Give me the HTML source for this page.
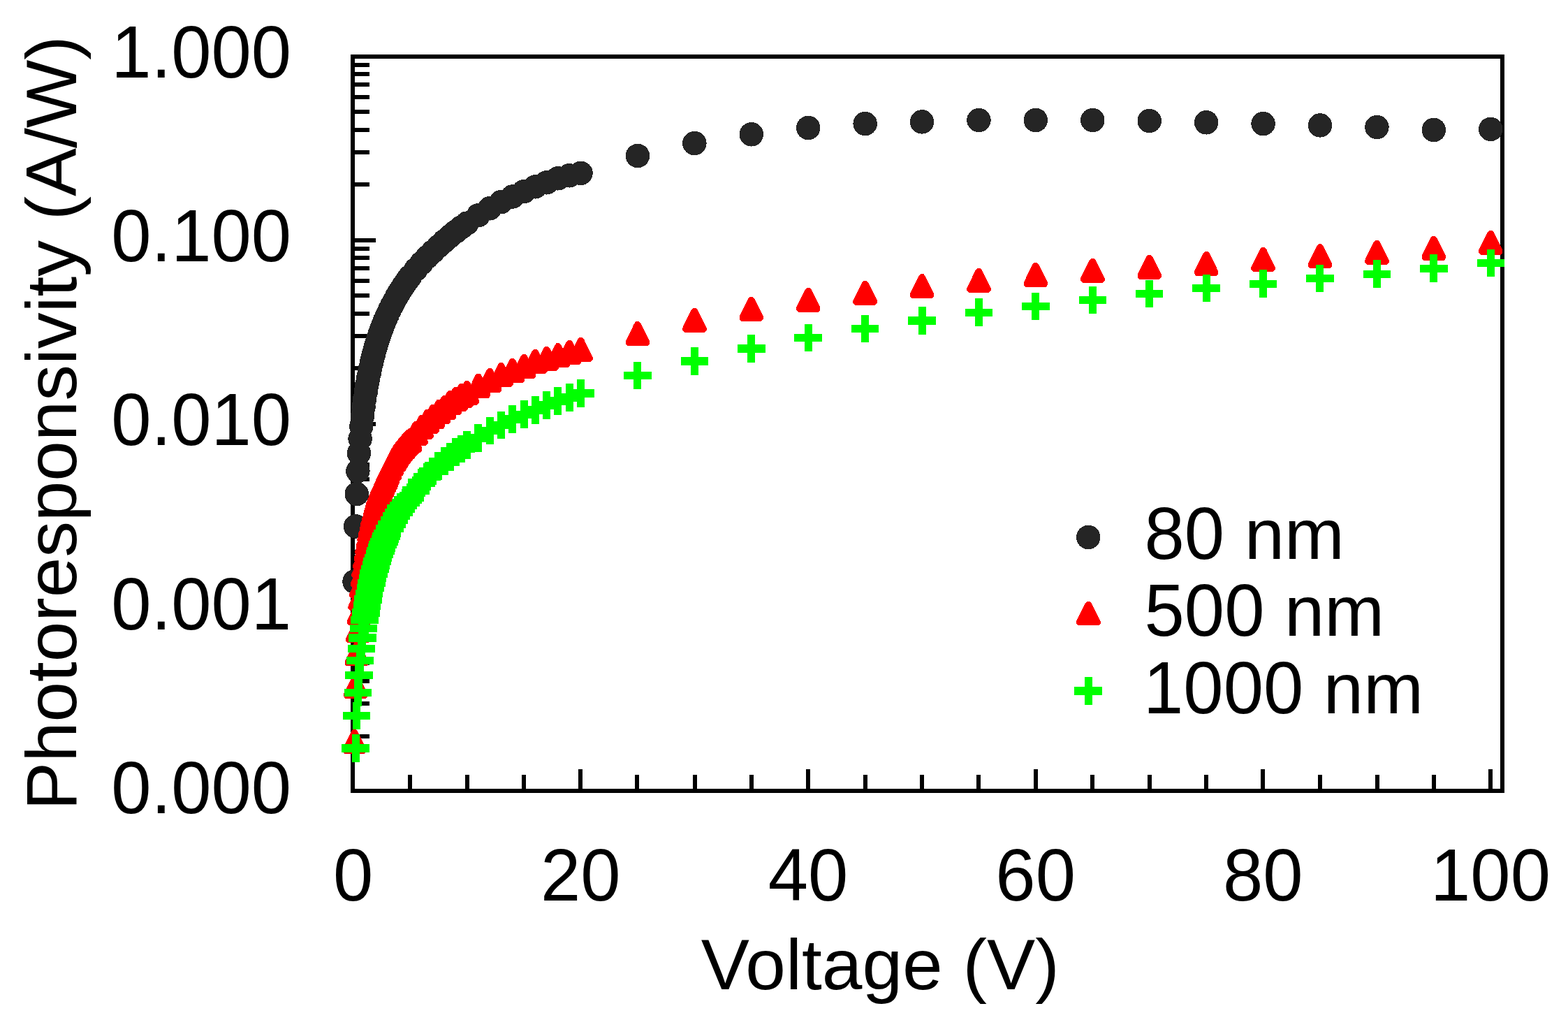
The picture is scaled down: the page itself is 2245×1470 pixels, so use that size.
<!DOCTYPE html>
<html lang="en"><head><meta charset="utf-8"><title>Photoresponsivity vs Voltage</title>
<style>html,body{margin:0;padding:0;background:#fff}body{width:2245px;height:1470px;overflow:hidden}svg{display:block}text{font-family:"Liberation Sans",Arial,Helvetica,sans-serif;fill:#000;font-kerning:none;font-variant-ligatures:none;letter-spacing:0}</style>
</head><body>
<svg width="2245" height="1470" viewBox="0 0 2245 1470">
<rect x="0" y="0" width="2245" height="1470" fill="#fff"/>
<g fill="#000" shape-rendering="crispEdges">
<rect x="502" y="78" width="1652" height="6"/>
<rect x="502" y="1129" width="1652" height="6"/>
<rect x="502" y="78" width="6" height="1057"/>
<rect x="2148" y="78" width="6" height="1057"/>
<rect x="508" y="90" width="21" height="6"/>
<rect x="508" y="103" width="21" height="6"/>
<rect x="508" y="118" width="21" height="6"/>
<rect x="508" y="136" width="21" height="6"/>
<rect x="508" y="157" width="21" height="6"/>
<rect x="508" y="183" width="21" height="6"/>
<rect x="508" y="215" width="21" height="6"/>
<rect x="508" y="261" width="21" height="6"/>
<rect x="508" y="341" width="30" height="6"/>
<rect x="508" y="353" width="21" height="6"/>
<rect x="508" y="366" width="21" height="6"/>
<rect x="508" y="381" width="21" height="6"/>
<rect x="508" y="399" width="21" height="6"/>
<rect x="508" y="420" width="21" height="6"/>
<rect x="508" y="446" width="21" height="6"/>
<rect x="508" y="478" width="21" height="6"/>
<rect x="508" y="524" width="21" height="6"/>
<rect x="508" y="604" width="30" height="6"/>
<rect x="508" y="616" width="21" height="6"/>
<rect x="508" y="629" width="21" height="6"/>
<rect x="508" y="644" width="21" height="6"/>
<rect x="508" y="662" width="21" height="6"/>
<rect x="508" y="683" width="21" height="6"/>
<rect x="508" y="709" width="21" height="6"/>
<rect x="508" y="741" width="21" height="6"/>
<rect x="508" y="787" width="21" height="6"/>
<rect x="508" y="867" width="30" height="6"/>
<rect x="508" y="879" width="21" height="6"/>
<rect x="508" y="892" width="21" height="6"/>
<rect x="508" y="907" width="21" height="6"/>
<rect x="508" y="925" width="21" height="6"/>
<rect x="508" y="946" width="21" height="6"/>
<rect x="508" y="972" width="21" height="6"/>
<rect x="508" y="1004" width="21" height="6"/>
<rect x="508" y="1051" width="21" height="6"/>
<rect x="584" y="1109" width="6" height="20"/>
<rect x="666" y="1109" width="6" height="20"/>
<rect x="747" y="1109" width="6" height="20"/>
<rect x="828" y="1101" width="6" height="28"/>
<rect x="909" y="1109" width="6" height="20"/>
<rect x="992" y="1109" width="6" height="20"/>
<rect x="1073" y="1109" width="6" height="20"/>
<rect x="1154" y="1101" width="6" height="28"/>
<rect x="1236" y="1109" width="6" height="20"/>
<rect x="1317" y="1109" width="6" height="20"/>
<rect x="1398" y="1109" width="6" height="20"/>
<rect x="1480" y="1101" width="6" height="28"/>
<rect x="1561" y="1109" width="6" height="20"/>
<rect x="1643" y="1109" width="6" height="20"/>
<rect x="1724" y="1109" width="6" height="20"/>
<rect x="1805" y="1101" width="6" height="28"/>
<rect x="1887" y="1109" width="6" height="20"/>
<rect x="1969" y="1109" width="6" height="20"/>
<rect x="2050" y="1109" width="6" height="20"/>
<rect x="2131" y="1101" width="6" height="28"/>
</g>
<g shape-rendering="crispEdges">
<g fill="#252525">
<circle cx="507.48" cy="832.50" r="17.25"/>
<circle cx="509.11" cy="753.40" r="17.25"/>
<circle cx="510.74" cy="707.13" r="17.25"/>
<circle cx="512.36" cy="674.31" r="17.25"/>
<circle cx="513.99" cy="648.84" r="17.25"/>
<circle cx="515.62" cy="628.04" r="17.25"/>
<circle cx="517.25" cy="610.45" r="17.25"/>
<circle cx="518.88" cy="595.73" r="17.25"/>
<circle cx="520.51" cy="582.74" r="17.25"/>
<circle cx="522.13" cy="571.13" r="17.25"/>
<circle cx="523.76" cy="560.62" r="17.25"/>
<circle cx="525.39" cy="551.04" r="17.25"/>
<circle cx="527.02" cy="542.22" r="17.25"/>
<circle cx="528.65" cy="534.05" r="17.25"/>
<circle cx="530.28" cy="526.45" r="17.25"/>
<circle cx="531.90" cy="519.34" r="17.25"/>
<circle cx="533.53" cy="512.67" r="17.25"/>
<circle cx="535.16" cy="506.37" r="17.25"/>
<circle cx="536.79" cy="500.42" r="17.25"/>
<circle cx="538.42" cy="494.77" r="17.25"/>
<circle cx="540.05" cy="489.39" r="17.25"/>
<circle cx="541.67" cy="484.27" r="17.25"/>
<circle cx="543.30" cy="479.38" r="17.25"/>
<circle cx="544.93" cy="474.76" r="17.25"/>
<circle cx="546.56" cy="470.35" r="17.25"/>
<circle cx="548.19" cy="466.12" r="17.25"/>
<circle cx="549.82" cy="462.04" r="17.25"/>
<circle cx="551.45" cy="458.12" r="17.25"/>
<circle cx="553.07" cy="454.33" r="17.25"/>
<circle cx="554.70" cy="450.68" r="17.25"/>
<circle cx="557.96" cy="443.72" r="17.25"/>
<circle cx="561.22" cy="437.18" r="17.25"/>
<circle cx="564.47" cy="431.02" r="17.25"/>
<circle cx="567.73" cy="425.20" r="17.25"/>
<circle cx="570.99" cy="419.67" r="17.25"/>
<circle cx="574.24" cy="414.42" r="17.25"/>
<circle cx="577.50" cy="409.41" r="17.25"/>
<circle cx="580.76" cy="404.62" r="17.25"/>
<circle cx="584.01" cy="400.11" r="17.25"/>
<circle cx="587.27" cy="395.79" r="17.25"/>
<circle cx="595.41" cy="385.71" r="17.25"/>
<circle cx="603.55" cy="376.51" r="17.25"/>
<circle cx="611.70" cy="368.05" r="17.25"/>
<circle cx="619.84" cy="360.22" r="17.25"/>
<circle cx="627.98" cy="352.48" r="17.25"/>
<circle cx="636.12" cy="345.10" r="17.25"/>
<circle cx="644.26" cy="338.16" r="17.25"/>
<circle cx="652.41" cy="331.62" r="17.25"/>
<circle cx="660.55" cy="325.44" r="17.25"/>
<circle cx="668.69" cy="319.57" r="17.25"/>
<circle cx="684.97" cy="308.10" r="17.25"/>
<circle cx="701.26" cy="298.30" r="17.25"/>
<circle cx="717.54" cy="289.10" r="17.25"/>
<circle cx="733.83" cy="281.50" r="17.25"/>
<circle cx="750.11" cy="274.10" r="17.25"/>
<circle cx="766.39" cy="267.30" r="17.25"/>
<circle cx="782.68" cy="261.30" r="17.25"/>
<circle cx="798.96" cy="255.30" r="17.25"/>
<circle cx="815.25" cy="251.30" r="17.25"/>
<circle cx="831.53" cy="247.80" r="17.25"/>
<circle cx="912.95" cy="223.00" r="17.25"/>
<circle cx="994.37" cy="205.10" r="17.25"/>
<circle cx="1075.79" cy="192.30" r="17.25"/>
<circle cx="1157.21" cy="183.00" r="17.25"/>
<circle cx="1238.63" cy="177.10" r="17.25"/>
<circle cx="1320.05" cy="174.40" r="17.25"/>
<circle cx="1401.47" cy="172.00" r="17.25"/>
<circle cx="1482.89" cy="172.00" r="17.25"/>
<circle cx="1564.31" cy="172.00" r="17.25"/>
<circle cx="1645.73" cy="173.00" r="17.25"/>
<circle cx="1727.15" cy="175.30" r="17.25"/>
<circle cx="1808.57" cy="177.10" r="17.25"/>
<circle cx="1889.99" cy="179.40" r="17.25"/>
<circle cx="1971.41" cy="182.00" r="17.25"/>
<circle cx="2052.83" cy="186.00" r="17.25"/>
<circle cx="2134.25" cy="184.90" r="17.25"/>
</g>
<g fill="#ff0000">
<polygon points="505.48,1044.19 509.48,1044.19 511.98,1046.79 524.08,1071.19 524.68,1072.69 524.68,1075.99 523.48,1077.39 521.98,1078.89 492.98,1078.89 491.48,1077.39 490.28,1075.99 490.28,1072.69 490.88,1071.19 502.98,1046.79"/>
<polygon points="507.11,964.95 511.11,964.95 513.61,967.55 525.71,991.95 526.31,993.45 526.31,996.75 525.11,998.15 523.61,999.65 494.61,999.65 493.11,998.15 491.91,996.75 491.91,993.45 492.51,991.95 504.61,967.55"/>
<polygon points="508.74,918.60 512.74,918.60 515.24,921.20 527.34,945.60 527.94,947.10 527.94,950.40 526.74,951.80 525.24,953.30 496.24,953.30 494.74,951.80 493.54,950.40 493.54,947.10 494.14,945.60 506.24,921.20"/>
<polygon points="510.36,885.72 514.36,885.72 516.86,888.32 528.96,912.72 529.56,914.22 529.56,917.52 528.36,918.92 526.86,920.42 497.86,920.42 496.36,918.92 495.16,917.52 495.16,914.22 495.76,912.72 507.86,888.32"/>
<polygon points="511.99,860.21 515.99,860.21 518.49,862.81 530.59,887.21 531.19,888.71 531.19,892.01 529.99,893.41 528.49,894.91 499.49,894.91 497.99,893.41 496.79,892.01 496.79,888.71 497.39,887.21 509.49,862.81"/>
<polygon points="513.62,839.37 517.62,839.37 520.12,841.97 532.22,866.37 532.82,867.87 532.82,871.17 531.62,872.57 530.12,874.07 501.12,874.07 499.62,872.57 498.42,871.17 498.42,867.87 499.02,866.37 511.12,841.97"/>
<polygon points="515.25,821.75 519.25,821.75 521.75,824.35 533.85,848.75 534.45,850.25 534.45,853.55 533.25,854.95 531.75,856.45 502.75,856.45 501.25,854.95 500.05,853.55 500.05,850.25 500.65,848.75 512.75,824.35"/>
<polygon points="516.88,806.49 520.88,806.49 523.38,809.09 535.48,833.49 536.08,834.99 536.08,838.29 534.88,839.69 533.38,841.19 504.38,841.19 502.88,839.69 501.68,838.29 501.68,834.99 502.28,833.49 514.38,809.09"/>
<polygon points="518.51,793.02 522.51,793.02 525.01,795.62 537.11,820.02 537.71,821.52 537.71,824.82 536.51,826.22 535.01,827.72 506.01,827.72 504.51,826.22 503.31,824.82 503.31,821.52 503.91,820.02 516.01,795.62"/>
<polygon points="520.13,780.98 524.13,780.98 526.63,783.58 538.73,807.98 539.33,809.48 539.33,812.78 538.13,814.18 536.63,815.68 507.63,815.68 506.13,814.18 504.93,812.78 504.93,809.48 505.53,807.98 517.63,783.58"/>
<polygon points="521.76,770.08 525.76,770.08 528.26,772.68 540.36,797.08 540.96,798.58 540.96,801.88 539.76,803.28 538.26,804.78 509.26,804.78 507.76,803.28 506.56,801.88 506.56,798.58 507.16,797.08 519.26,772.68"/>
<polygon points="523.39,760.14 527.39,760.14 529.89,762.74 541.99,787.14 542.59,788.64 542.59,791.94 541.39,793.34 539.89,794.84 510.89,794.84 509.39,793.34 508.19,791.94 508.19,788.64 508.79,787.14 520.89,762.74"/>
<polygon points="525.02,750.99 529.02,750.99 531.52,753.59 543.62,777.99 544.22,779.49 544.22,782.79 543.02,784.19 541.52,785.69 512.52,785.69 511.02,784.19 509.82,782.79 509.82,779.49 510.42,777.99 522.52,753.59"/>
<polygon points="526.65,742.52 530.65,742.52 533.15,745.12 545.25,769.52 545.85,771.02 545.85,774.32 544.65,775.72 543.15,777.22 514.15,777.22 512.65,775.72 511.45,774.32 511.45,771.02 512.05,769.52 524.15,745.12"/>
<polygon points="528.28,734.63 532.28,734.63 534.78,737.23 546.88,761.63 547.48,763.13 547.48,766.43 546.28,767.83 544.78,769.33 515.78,769.33 514.28,767.83 513.08,766.43 513.08,763.13 513.68,761.63 525.78,737.23"/>
<polygon points="529.90,727.25 533.90,727.25 536.40,729.85 548.50,754.25 549.10,755.75 549.10,759.05 547.90,760.45 546.40,761.95 517.40,761.95 515.90,760.45 514.70,759.05 514.70,755.75 515.30,754.25 527.40,729.85"/>
<polygon points="531.53,720.32 535.53,720.32 538.03,722.92 550.13,747.32 550.73,748.82 550.73,752.12 549.53,753.52 548.03,755.02 519.03,755.02 517.53,753.52 516.33,752.12 516.33,748.82 516.93,747.32 529.03,722.92"/>
<polygon points="533.16,713.79 537.16,713.79 539.66,716.39 551.76,740.79 552.36,742.29 552.36,745.59 551.16,746.99 549.66,748.49 520.66,748.49 519.16,746.99 517.96,745.59 517.96,742.29 518.56,740.79 530.66,716.39"/>
<polygon points="534.79,707.61 538.79,707.61 541.29,710.21 553.39,734.61 553.99,736.11 553.99,739.41 552.79,740.81 551.29,742.31 522.29,742.31 520.79,740.81 519.59,739.41 519.59,736.11 520.19,734.61 532.29,710.21"/>
<polygon points="536.42,701.75 540.42,701.75 542.92,704.35 555.02,728.75 555.62,730.25 555.62,733.55 554.42,734.95 552.92,736.45 523.92,736.45 522.42,734.95 521.22,733.55 521.22,730.25 521.82,728.75 533.92,704.35"/>
<polygon points="538.05,696.17 542.05,696.17 544.55,698.77 556.65,723.17 557.25,724.67 557.25,727.97 556.05,729.37 554.55,730.87 525.55,730.87 524.05,729.37 522.85,727.97 522.85,724.67 523.45,723.17 535.55,698.77"/>
<polygon points="539.67,690.85 543.67,690.85 546.17,693.45 558.27,717.85 558.87,719.35 558.87,722.65 557.67,724.05 556.17,725.55 527.17,725.55 525.67,724.05 524.47,722.65 524.47,719.35 525.07,717.85 537.17,693.45"/>
<polygon points="541.30,686.57 545.30,686.57 547.80,689.17 559.90,713.57 560.50,715.07 560.50,718.37 559.30,719.77 557.80,721.27 528.80,721.27 527.30,719.77 526.10,718.37 526.10,715.07 526.70,713.57 538.80,689.17"/>
<polygon points="542.93,682.47 546.93,682.47 549.43,685.07 561.53,709.47 562.13,710.97 562.13,714.27 560.93,715.67 559.43,717.17 530.43,717.17 528.93,715.67 527.73,714.27 527.73,710.97 528.33,709.47 540.43,685.07"/>
<polygon points="544.56,678.55 548.56,678.55 551.06,681.15 563.16,705.55 563.76,707.05 563.76,710.35 562.56,711.75 561.06,713.25 532.06,713.25 530.56,711.75 529.36,710.35 529.36,707.05 529.96,705.55 542.06,681.15"/>
<polygon points="546.19,674.79 550.19,674.79 552.69,677.39 564.79,701.79 565.39,703.29 565.39,706.59 564.19,707.99 562.69,709.49 533.69,709.49 532.19,707.99 530.99,706.59 530.99,703.29 531.59,701.79 543.69,677.39"/>
<polygon points="547.82,671.17 551.82,671.17 554.32,673.77 566.42,698.17 567.02,699.67 567.02,702.97 565.82,704.37 564.32,705.87 535.32,705.87 533.82,704.37 532.62,702.97 532.62,699.67 533.22,698.17 545.32,673.77"/>
<polygon points="549.45,667.69 553.45,667.69 555.95,670.29 568.05,694.69 568.65,696.19 568.65,699.49 567.45,700.89 565.95,702.39 536.95,702.39 535.45,700.89 534.25,699.49 534.25,696.19 534.85,694.69 546.95,670.29"/>
<polygon points="551.07,663.88 555.07,663.88 557.57,666.48 569.67,690.88 570.27,692.38 570.27,695.68 569.07,697.08 567.57,698.58 538.57,698.58 537.07,697.08 535.87,695.68 535.87,692.38 536.47,690.88 548.57,666.48"/>
<polygon points="552.70,660.21 556.70,660.21 559.20,662.81 571.30,687.21 571.90,688.71 571.90,692.01 570.70,693.41 569.20,694.91 540.20,694.91 538.70,693.41 537.50,692.01 537.50,688.71 538.10,687.21 550.20,662.81"/>
<polygon points="555.96,653.21 559.96,653.21 562.46,655.81 574.56,680.21 575.16,681.71 575.16,685.01 573.96,686.41 572.46,687.91 543.46,687.91 541.96,686.41 540.76,685.01 540.76,681.71 541.36,680.21 553.46,655.81"/>
<polygon points="559.22,646.64 563.22,646.64 565.72,649.24 577.82,673.64 578.42,675.14 578.42,678.44 577.22,679.84 575.72,681.34 546.72,681.34 545.22,679.84 544.02,678.44 544.02,675.14 544.62,673.64 556.72,649.24"/>
<polygon points="562.47,640.45 566.47,640.45 568.97,643.05 581.07,667.45 581.67,668.95 581.67,672.25 580.47,673.65 578.97,675.15 549.97,675.15 548.47,673.65 547.27,672.25 547.27,668.95 547.87,667.45 559.97,643.05"/>
<polygon points="565.73,635.16 569.73,635.16 572.23,637.76 584.33,662.16 584.93,663.66 584.93,666.96 583.73,668.36 582.23,669.86 553.23,669.86 551.73,668.36 550.53,666.96 550.53,663.66 551.13,662.16 563.23,637.76"/>
<polygon points="568.99,630.70 572.99,630.70 575.49,633.30 587.59,657.70 588.19,659.20 588.19,662.50 586.99,663.90 585.49,665.40 556.49,665.40 554.99,663.90 553.79,662.50 553.79,659.20 554.39,657.70 566.49,633.30"/>
<polygon points="572.24,626.48 576.24,626.48 578.74,629.08 590.84,653.48 591.44,654.98 591.44,658.28 590.24,659.68 588.74,661.18 559.74,661.18 558.24,659.68 557.04,658.28 557.04,654.98 557.64,653.48 569.74,629.08"/>
<polygon points="575.50,622.47 579.50,622.47 582.00,625.07 594.10,649.47 594.70,650.97 594.70,654.27 593.50,655.67 592.00,657.17 563.00,657.17 561.50,655.67 560.30,654.27 560.30,650.97 560.90,649.47 573.00,625.07"/>
<polygon points="578.76,618.65 582.76,618.65 585.26,621.25 597.36,645.65 597.96,647.15 597.96,650.45 596.76,651.85 595.26,653.35 566.26,653.35 564.76,651.85 563.56,650.45 563.56,647.15 564.16,645.65 576.26,621.25"/>
<polygon points="582.01,615.01 586.01,615.01 588.51,617.61 600.61,642.01 601.21,643.51 601.21,646.81 600.01,648.21 598.51,649.71 569.51,649.71 568.01,648.21 566.81,646.81 566.81,643.51 567.41,642.01 579.51,617.61"/>
<polygon points="585.27,613.00 589.27,613.00 591.77,615.60 603.87,640.00 604.47,641.50 604.47,644.80 603.27,646.20 601.77,647.70 572.77,647.70 571.27,646.20 570.07,644.80 570.07,641.50 570.67,640.00 582.77,615.60"/>
<polygon points="593.41,602.90 597.41,602.90 599.91,605.50 612.01,629.90 612.61,631.40 612.61,634.70 611.41,636.10 609.91,637.60 580.91,637.60 579.41,636.10 578.21,634.70 578.21,631.40 578.81,629.90 590.91,605.50"/>
<polygon points="601.55,593.90 605.55,593.90 608.05,596.50 620.15,620.90 620.75,622.40 620.75,625.70 619.55,627.10 618.05,628.60 589.05,628.60 587.55,627.10 586.35,625.70 586.35,622.40 586.95,620.90 599.05,596.50"/>
<polygon points="609.70,586.00 613.70,586.00 616.20,588.60 628.30,613.00 628.90,614.50 628.90,617.80 627.70,619.20 626.20,620.70 597.20,620.70 595.70,619.20 594.50,617.80 594.50,614.50 595.10,613.00 607.20,588.60"/>
<polygon points="617.84,579.00 621.84,579.00 624.34,581.60 636.44,606.00 637.04,607.50 637.04,610.80 635.84,612.20 634.34,613.70 605.34,613.70 603.84,612.20 602.64,610.80 602.64,607.50 603.24,606.00 615.34,581.60"/>
<polygon points="625.98,572.00 629.98,572.00 632.48,574.60 644.58,599.00 645.18,600.50 645.18,603.80 643.98,605.20 642.48,606.70 613.48,606.70 611.98,605.20 610.78,603.80 610.78,600.50 611.38,599.00 623.48,574.60"/>
<polygon points="634.12,566.05 638.12,566.05 640.62,568.65 652.72,593.05 653.32,594.55 653.32,597.85 652.12,599.25 650.62,600.75 621.62,600.75 620.12,599.25 618.92,597.85 618.92,594.55 619.52,593.05 631.62,568.65"/>
<polygon points="642.26,559.10 646.26,559.10 648.76,561.70 660.86,586.10 661.46,587.60 661.46,590.90 660.26,592.30 658.76,593.80 629.76,593.80 628.26,592.30 627.06,590.90 627.06,587.60 627.66,586.10 639.76,561.70"/>
<polygon points="650.41,553.90 654.41,553.90 656.91,556.50 669.01,580.90 669.61,582.40 669.61,585.70 668.41,587.10 666.91,588.60 637.91,588.60 636.41,587.10 635.21,585.70 635.21,582.40 635.81,580.90 647.91,556.50"/>
<polygon points="658.55,549.05 662.55,549.05 665.05,551.65 677.15,576.05 677.75,577.55 677.75,580.85 676.55,582.25 675.05,583.75 646.05,583.75 644.55,582.25 643.35,580.85 643.35,577.55 643.95,576.05 656.05,551.65"/>
<polygon points="666.69,544.80 670.69,544.80 673.19,547.40 685.29,571.80 685.89,573.30 685.89,576.60 684.69,578.00 683.19,579.50 654.19,579.50 652.69,578.00 651.49,576.60 651.49,573.30 652.09,571.80 664.19,547.40"/>
<polygon points="682.97,534.90 686.97,534.90 689.47,537.50 701.57,561.90 702.17,563.40 702.17,566.70 700.97,568.10 699.47,569.60 670.47,569.60 668.97,568.10 667.77,566.70 667.77,563.40 668.37,561.90 680.47,537.50"/>
<polygon points="699.26,526.90 703.26,526.90 705.76,529.50 717.86,553.90 718.46,555.40 718.46,558.70 717.26,560.10 715.76,561.60 686.76,561.60 685.26,560.10 684.06,558.70 684.06,555.40 684.66,553.90 696.76,529.50"/>
<polygon points="715.54,519.00 719.54,519.00 722.04,521.60 734.14,546.00 734.74,547.50 734.74,550.80 733.54,552.20 732.04,553.70 703.04,553.70 701.54,552.20 700.34,550.80 700.34,547.50 700.94,546.00 713.04,521.60"/>
<polygon points="731.83,513.10 735.83,513.10 738.33,515.70 750.43,540.10 751.03,541.60 751.03,544.90 749.83,546.30 748.33,547.80 719.33,547.80 717.83,546.30 716.63,544.90 716.63,541.60 717.23,540.10 729.33,515.70"/>
<polygon points="748.11,507.00 752.11,507.00 754.61,509.60 766.71,534.00 767.31,535.50 767.31,538.80 766.11,540.20 764.61,541.70 735.61,541.70 734.11,540.20 732.91,538.80 732.91,535.50 733.51,534.00 745.61,509.60"/>
<polygon points="764.39,500.05 768.39,500.05 770.89,502.65 782.99,527.05 783.59,528.55 783.59,531.85 782.39,533.25 780.89,534.75 751.89,534.75 750.39,533.25 749.19,531.85 749.19,528.55 749.79,527.05 761.89,502.65"/>
<polygon points="780.68,495.90 784.68,495.90 787.18,498.50 799.28,522.90 799.88,524.40 799.88,527.70 798.68,529.10 797.18,530.60 768.18,530.60 766.68,529.10 765.48,527.70 765.48,524.40 766.08,522.90 778.18,498.50"/>
<polygon points="796.96,491.00 800.96,491.00 803.46,493.60 815.56,518.00 816.16,519.50 816.16,522.80 814.96,524.20 813.46,525.70 784.46,525.70 782.96,524.20 781.76,522.80 781.76,519.50 782.36,518.00 794.46,493.60"/>
<polygon points="813.25,487.00 817.25,487.00 819.75,489.60 831.85,514.00 832.45,515.50 832.45,518.80 831.25,520.20 829.75,521.70 800.75,521.70 799.25,520.20 798.05,518.80 798.05,515.50 798.65,514.00 810.75,489.60"/>
<polygon points="829.53,482.90 833.53,482.90 836.03,485.50 848.13,509.90 848.73,511.40 848.73,514.70 847.53,516.10 846.03,517.60 817.03,517.60 815.53,516.10 814.33,514.70 814.33,511.40 814.93,509.90 827.03,485.50"/>
<polygon points="910.95,460.00 914.95,460.00 917.45,462.60 929.55,487.00 930.15,488.50 930.15,491.80 928.95,493.20 927.45,494.70 898.45,494.70 896.95,493.20 895.75,491.80 895.75,488.50 896.35,487.00 908.45,462.60"/>
<polygon points="992.37,440.90 996.37,440.90 998.87,443.50 1010.97,467.90 1011.57,469.40 1011.57,472.70 1010.37,474.10 1008.87,475.60 979.87,475.60 978.37,474.10 977.17,472.70 977.17,469.40 977.77,467.90 989.87,443.50"/>
<polygon points="1073.79,424.90 1077.79,424.90 1080.29,427.50 1092.39,451.90 1092.99,453.40 1092.99,456.70 1091.79,458.10 1090.29,459.60 1061.29,459.60 1059.79,458.10 1058.59,456.70 1058.59,453.40 1059.19,451.90 1071.29,427.50"/>
<polygon points="1155.21,411.90 1159.21,411.90 1161.71,414.50 1173.81,438.90 1174.41,440.40 1174.41,443.70 1173.21,445.10 1171.71,446.60 1142.71,446.60 1141.21,445.10 1140.01,443.70 1140.01,440.40 1140.61,438.90 1152.71,414.50"/>
<polygon points="1236.63,401.80 1240.63,401.80 1243.13,404.40 1255.23,428.80 1255.83,430.30 1255.83,433.60 1254.63,435.00 1253.13,436.50 1224.13,436.50 1222.63,435.00 1221.43,433.60 1221.43,430.30 1222.03,428.80 1234.13,404.40"/>
<polygon points="1318.05,392.00 1322.05,392.00 1324.55,394.60 1336.65,419.00 1337.25,420.50 1337.25,423.80 1336.05,425.20 1334.55,426.70 1305.55,426.70 1304.05,425.20 1302.85,423.80 1302.85,420.50 1303.45,419.00 1315.55,394.60"/>
<polygon points="1399.47,383.90 1403.47,383.90 1405.97,386.50 1418.07,410.90 1418.67,412.40 1418.67,415.70 1417.47,417.10 1415.97,418.60 1386.97,418.60 1385.47,417.10 1384.27,415.70 1384.27,412.40 1384.87,410.90 1396.97,386.50"/>
<polygon points="1480.89,376.00 1484.89,376.00 1487.39,378.60 1499.49,403.00 1500.09,404.50 1500.09,407.80 1498.89,409.20 1497.39,410.70 1468.39,410.70 1466.89,409.20 1465.69,407.80 1465.69,404.50 1466.29,403.00 1478.39,378.60"/>
<polygon points="1562.31,369.80 1566.31,369.80 1568.81,372.40 1580.91,396.80 1581.51,398.30 1581.51,401.60 1580.31,403.00 1578.81,404.50 1549.81,404.50 1548.31,403.00 1547.11,401.60 1547.11,398.30 1547.71,396.80 1559.81,372.40"/>
<polygon points="1643.73,364.90 1647.73,364.90 1650.23,367.50 1662.33,391.90 1662.93,393.40 1662.93,396.70 1661.73,398.10 1660.23,399.60 1631.23,399.60 1629.73,398.10 1628.53,396.70 1628.53,393.40 1629.13,391.90 1641.23,367.50"/>
<polygon points="1725.15,360.00 1729.15,360.00 1731.65,362.60 1743.75,387.00 1744.35,388.50 1744.35,391.80 1743.15,393.20 1741.65,394.70 1712.65,394.70 1711.15,393.20 1709.95,391.80 1709.95,388.50 1710.55,387.00 1722.65,362.60"/>
<polygon points="1806.57,354.00 1810.57,354.00 1813.07,356.60 1825.17,381.00 1825.77,382.50 1825.77,385.80 1824.57,387.20 1823.07,388.70 1794.07,388.70 1792.57,387.20 1791.37,385.80 1791.37,382.50 1791.97,381.00 1804.07,356.60"/>
<polygon points="1887.99,349.00 1891.99,349.00 1894.49,351.60 1906.59,376.00 1907.19,377.50 1907.19,380.80 1905.99,382.20 1904.49,383.70 1875.49,383.70 1873.99,382.20 1872.79,380.80 1872.79,377.50 1873.39,376.00 1885.49,351.60"/>
<polygon points="1969.41,343.90 1973.41,343.90 1975.91,346.50 1988.01,370.90 1988.61,372.40 1988.61,375.70 1987.41,377.10 1985.91,378.60 1956.91,378.60 1955.41,377.10 1954.21,375.70 1954.21,372.40 1954.81,370.90 1966.91,346.50"/>
<polygon points="2050.83,338.00 2054.83,338.00 2057.33,340.60 2069.43,365.00 2070.03,366.50 2070.03,369.80 2068.83,371.20 2067.33,372.70 2038.33,372.70 2036.83,371.20 2035.63,369.80 2035.63,366.50 2036.23,365.00 2048.33,340.60"/>
<polygon points="2132.25,329.90 2136.25,329.90 2138.75,332.50 2150.85,356.90 2151.45,358.40 2151.45,361.70 2150.25,363.10 2148.75,364.60 2119.75,364.60 2118.25,363.10 2117.05,361.70 2117.05,358.40 2117.65,356.90 2129.75,332.50"/>
</g>
<g fill="#00ff00">
<path d="M503.61 1051.36h11v14.1h14.25v11.3h-14.25v14.1h-11v-14.1h-14.25v-11.3h14.25z"/>
<path d="M505.24 1004.90h11v14.1h14.25v11.3h-14.25v14.1h-11v-14.1h-14.25v-11.3h14.25z"/>
<path d="M506.86 971.93h11v14.1h14.25v11.3h-14.25v14.1h-11v-14.1h-14.25v-11.3h14.25z"/>
<path d="M508.49 946.61h11v14.1h14.25v11.3h-14.25v14.1h-11v-14.1h-14.25v-11.3h14.25z"/>
<path d="M510.12 925.91h11v14.1h14.25v11.3h-14.25v14.1h-11v-14.1h-14.25v-11.3h14.25z"/>
<path d="M511.75 908.41h11v14.1h14.25v11.3h-14.25v14.1h-11v-14.1h-14.25v-11.3h14.25z"/>
<path d="M513.38 893.26h11v14.1h14.25v11.3h-14.25v14.1h-11v-14.1h-14.25v-11.3h14.25z"/>
<path d="M515.01 879.89h11v14.1h14.25v11.3h-14.25v14.1h-11v-14.1h-14.25v-11.3h14.25z"/>
<path d="M516.63 867.93h11v14.1h14.25v11.3h-14.25v14.1h-11v-14.1h-14.25v-11.3h14.25z"/>
<path d="M518.26 857.11h11v14.1h14.25v11.3h-14.25v14.1h-11v-14.1h-14.25v-11.3h14.25z"/>
<path d="M519.89 847.24h11v14.1h14.25v11.3h-14.25v14.1h-11v-14.1h-14.25v-11.3h14.25z"/>
<path d="M521.52 838.15h11v14.1h14.25v11.3h-14.25v14.1h-11v-14.1h-14.25v-11.3h14.25z"/>
<path d="M523.15 829.74h11v14.1h14.25v11.3h-14.25v14.1h-11v-14.1h-14.25v-11.3h14.25z"/>
<path d="M524.78 821.91h11v14.1h14.25v11.3h-14.25v14.1h-11v-14.1h-14.25v-11.3h14.25z"/>
<path d="M526.40 814.58h11v14.1h14.25v11.3h-14.25v14.1h-11v-14.1h-14.25v-11.3h14.25z"/>
<path d="M528.03 807.70h11v14.1h14.25v11.3h-14.25v14.1h-11v-14.1h-14.25v-11.3h14.25z"/>
<path d="M529.66 801.21h11v14.1h14.25v11.3h-14.25v14.1h-11v-14.1h-14.25v-11.3h14.25z"/>
<path d="M531.29 795.08h11v14.1h14.25v11.3h-14.25v14.1h-11v-14.1h-14.25v-11.3h14.25z"/>
<path d="M532.92 789.25h11v14.1h14.25v11.3h-14.25v14.1h-11v-14.1h-14.25v-11.3h14.25z"/>
<path d="M534.55 783.72h11v14.1h14.25v11.3h-14.25v14.1h-11v-14.1h-14.25v-11.3h14.25z"/>
<path d="M536.17 778.44h11v14.1h14.25v11.3h-14.25v14.1h-11v-14.1h-14.25v-11.3h14.25z"/>
<path d="M537.80 773.39h11v14.1h14.25v11.3h-14.25v14.1h-11v-14.1h-14.25v-11.3h14.25z"/>
<path d="M539.43 768.63h11v14.1h14.25v11.3h-14.25v14.1h-11v-14.1h-14.25v-11.3h14.25z"/>
<path d="M541.06 764.14h11v14.1h14.25v11.3h-14.25v14.1h-11v-14.1h-14.25v-11.3h14.25z"/>
<path d="M542.69 759.83h11v14.1h14.25v11.3h-14.25v14.1h-11v-14.1h-14.25v-11.3h14.25z"/>
<path d="M544.32 755.68h11v14.1h14.25v11.3h-14.25v14.1h-11v-14.1h-14.25v-11.3h14.25z"/>
<path d="M545.95 751.68h11v14.1h14.25v11.3h-14.25v14.1h-11v-14.1h-14.25v-11.3h14.25z"/>
<path d="M547.57 747.82h11v14.1h14.25v11.3h-14.25v14.1h-11v-14.1h-14.25v-11.3h14.25z"/>
<path d="M549.20 744.09h11v14.1h14.25v11.3h-14.25v14.1h-11v-14.1h-14.25v-11.3h14.25z"/>
<path d="M552.46 737.04h11v14.1h14.25v11.3h-14.25v14.1h-11v-14.1h-14.25v-11.3h14.25z"/>
<path d="M555.72 730.61h11v14.1h14.25v11.3h-14.25v14.1h-11v-14.1h-14.25v-11.3h14.25z"/>
<path d="M558.97 724.56h11v14.1h14.25v11.3h-14.25v14.1h-11v-14.1h-14.25v-11.3h14.25z"/>
<path d="M562.23 718.83h11v14.1h14.25v11.3h-14.25v14.1h-11v-14.1h-14.25v-11.3h14.25z"/>
<path d="M565.49 713.40h11v14.1h14.25v11.3h-14.25v14.1h-11v-14.1h-14.25v-11.3h14.25z"/>
<path d="M568.74 708.23h11v14.1h14.25v11.3h-14.25v14.1h-11v-14.1h-14.25v-11.3h14.25z"/>
<path d="M572.00 703.70h11v14.1h14.25v11.3h-14.25v14.1h-11v-14.1h-14.25v-11.3h14.25z"/>
<path d="M575.26 699.63h11v14.1h14.25v11.3h-14.25v14.1h-11v-14.1h-14.25v-11.3h14.25z"/>
<path d="M578.51 695.74h11v14.1h14.25v11.3h-14.25v14.1h-11v-14.1h-14.25v-11.3h14.25z"/>
<path d="M581.77 692.25h11v14.1h14.25v11.3h-14.25v14.1h-11v-14.1h-14.25v-11.3h14.25z"/>
<path d="M589.91 682.25h11v14.1h14.25v11.3h-14.25v14.1h-11v-14.1h-14.25v-11.3h14.25z"/>
<path d="M598.05 671.25h11v14.1h14.25v11.3h-14.25v14.1h-11v-14.1h-14.25v-11.3h14.25z"/>
<path d="M606.20 662.85h11v14.1h14.25v11.3h-14.25v14.1h-11v-14.1h-14.25v-11.3h14.25z"/>
<path d="M614.34 654.55h11v14.1h14.25v11.3h-14.25v14.1h-11v-14.1h-14.25v-11.3h14.25z"/>
<path d="M622.48 647.25h11v14.1h14.25v11.3h-14.25v14.1h-11v-14.1h-14.25v-11.3h14.25z"/>
<path d="M630.62 640.45h11v14.1h14.25v11.3h-14.25v14.1h-11v-14.1h-14.25v-11.3h14.25z"/>
<path d="M638.76 634.25h11v14.1h14.25v11.3h-14.25v14.1h-11v-14.1h-14.25v-11.3h14.25z"/>
<path d="M646.91 627.45h11v14.1h14.25v11.3h-14.25v14.1h-11v-14.1h-14.25v-11.3h14.25z"/>
<path d="M655.05 622.55h11v14.1h14.25v11.3h-14.25v14.1h-11v-14.1h-14.25v-11.3h14.25z"/>
<path d="M663.19 617.25h11v14.1h14.25v11.3h-14.25v14.1h-11v-14.1h-14.25v-11.3h14.25z"/>
<path d="M679.47 607.25h11v14.1h14.25v11.3h-14.25v14.1h-11v-14.1h-14.25v-11.3h14.25z"/>
<path d="M695.76 596.75h11v14.1h14.25v11.3h-14.25v14.1h-11v-14.1h-14.25v-11.3h14.25z"/>
<path d="M712.04 588.85h11v14.1h14.25v11.3h-14.25v14.1h-11v-14.1h-14.25v-11.3h14.25z"/>
<path d="M728.33 580.25h11v14.1h14.25v11.3h-14.25v14.1h-11v-14.1h-14.25v-11.3h14.25z"/>
<path d="M744.61 573.45h11v14.1h14.25v11.3h-14.25v14.1h-11v-14.1h-14.25v-11.3h14.25z"/>
<path d="M760.89 567.35h11v14.1h14.25v11.3h-14.25v14.1h-11v-14.1h-14.25v-11.3h14.25z"/>
<path d="M777.18 560.25h11v14.1h14.25v11.3h-14.25v14.1h-11v-14.1h-14.25v-11.3h14.25z"/>
<path d="M793.46 554.25h11v14.1h14.25v11.3h-14.25v14.1h-11v-14.1h-14.25v-11.3h14.25z"/>
<path d="M809.75 549.25h11v14.1h14.25v11.3h-14.25v14.1h-11v-14.1h-14.25v-11.3h14.25z"/>
<path d="M826.03 543.25h11v14.1h14.25v11.3h-14.25v14.1h-11v-14.1h-14.25v-11.3h14.25z"/>
<path d="M907.45 517.95h11v14.1h14.25v11.3h-14.25v14.1h-11v-14.1h-14.25v-11.3h14.25z"/>
<path d="M988.87 497.25h11v14.1h14.25v11.3h-14.25v14.1h-11v-14.1h-14.25v-11.3h14.25z"/>
<path d="M1070.29 479.15h11v14.1h14.25v11.3h-14.25v14.1h-11v-14.1h-14.25v-11.3h14.25z"/>
<path d="M1151.71 463.75h11v14.1h14.25v11.3h-14.25v14.1h-11v-14.1h-14.25v-11.3h14.25z"/>
<path d="M1233.13 450.95h11v14.1h14.25v11.3h-14.25v14.1h-11v-14.1h-14.25v-11.3h14.25z"/>
<path d="M1314.55 439.30h11v14.1h14.25v11.3h-14.25v14.1h-11v-14.1h-14.25v-11.3h14.25z"/>
<path d="M1395.97 427.45h11v14.1h14.25v11.3h-14.25v14.1h-11v-14.1h-14.25v-11.3h14.25z"/>
<path d="M1477.39 418.65h11v14.1h14.25v11.3h-14.25v14.1h-11v-14.1h-14.25v-11.3h14.25z"/>
<path d="M1558.81 409.55h11v14.1h14.25v11.3h-14.25v14.1h-11v-14.1h-14.25v-11.3h14.25z"/>
<path d="M1640.23 400.55h11v14.1h14.25v11.3h-14.25v14.1h-11v-14.1h-14.25v-11.3h14.25z"/>
<path d="M1721.65 392.70h11v14.1h14.25v11.3h-14.25v14.1h-11v-14.1h-14.25v-11.3h14.25z"/>
<path d="M1803.07 386.45h11v14.1h14.25v11.3h-14.25v14.1h-11v-14.1h-14.25v-11.3h14.25z"/>
<path d="M1884.49 378.70h11v14.1h14.25v11.3h-14.25v14.1h-11v-14.1h-14.25v-11.3h14.25z"/>
<path d="M1965.91 372.45h11v14.1h14.25v11.3h-14.25v14.1h-11v-14.1h-14.25v-11.3h14.25z"/>
<path d="M2047.33 364.45h11v14.1h14.25v11.3h-14.25v14.1h-11v-14.1h-14.25v-11.3h14.25z"/>
<path d="M2128.75 356.95h11v14.1h14.25v11.3h-14.25v14.1h-11v-14.1h-14.25v-11.3h14.25z"/>
</g>
<circle cx="1558.2" cy="769" r="17.25" fill="#252525"/>
<g fill="#ff0000"><polygon points="1556.30,860.70 1560.30,860.70 1562.80,863.30 1574.90,887.70 1575.50,889.20 1575.50,892.50 1574.30,893.90 1572.80,895.40 1543.80,895.40 1542.30,893.90 1541.10,892.50 1541.10,889.20 1541.70,887.70 1553.80,863.30"/></g>
<path fill="#00ff00" d="M1553 969h11v14h14v12h-14v14h-11v-14h-15v-12h15z"/>
</g>
<g>
<text transform="translate(159.30 111.00) scale(0.9671 1)" font-size="106.5">1.000</text>
<text transform="translate(159.30 374.00) scale(0.9671 1)" font-size="106.5">0.100</text>
<text transform="translate(159.30 637.00) scale(0.9671 1)" font-size="106.5">0.010</text>
<text transform="translate(159.30 900.60) scale(0.9671 1)" font-size="106.5">0.001</text>
<text transform="translate(159.30 1163.80) scale(0.9671 1)" font-size="106.5">0.000</text>
<text transform="translate(505.60 1289.00) scale(0.9671 1)" font-size="106.5" text-anchor="middle">0</text>
<text transform="translate(831.28 1289.00) scale(0.9671 1)" font-size="106.5" text-anchor="middle">20</text>
<text transform="translate(1156.96 1289.00) scale(0.9671 1)" font-size="106.5" text-anchor="middle">40</text>
<text transform="translate(1482.64 1289.00) scale(0.9671 1)" font-size="106.5" text-anchor="middle">60</text>
<text transform="translate(1808.32 1289.00) scale(0.9671 1)" font-size="106.5" text-anchor="middle">80</text>
<text transform="translate(2134.00 1289.00) scale(0.9671 1)" font-size="106.5" text-anchor="middle">100</text>
<text transform="translate(1003.80 1416.00) scale(1.0117 1)" font-size="102.5" style="font-kerning:normal">Voltage (V)</text>
<text transform="translate(109.00 1159.80) rotate(-90) scale(1.0133 1)" font-size="102.0">Photoresponsivity (A/W)</text>
<text transform="translate(1638.60 800.20) scale(0.9671 1)" font-size="106.5">80</text>
<text transform="translate(1781.79 800.20) scale(1.0098 1)" font-size="102.0"> nm</text>
<text transform="translate(1638.60 909.80) scale(0.9671 1)" font-size="106.5">500</text>
<text transform="translate(1839.08 909.80) scale(1.0098 1)" font-size="102.0"> nm</text>
<text transform="translate(1637.10 1020.70) scale(0.9671 1)" font-size="106.5">1000</text>
<text transform="translate(1894.87 1020.70) scale(1.0098 1)" font-size="102.0"> nm</text>
</g>
</svg>
</body></html>
